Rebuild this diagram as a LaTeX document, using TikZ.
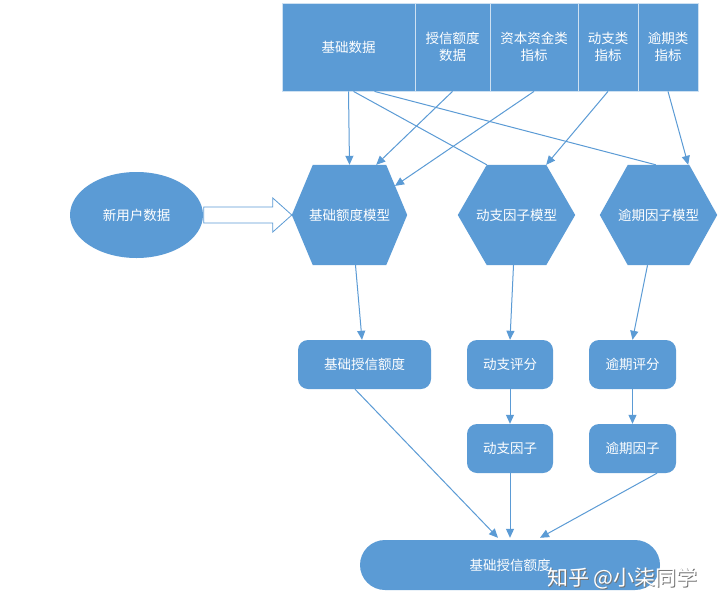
\documentclass[tikz,border=0pt]{standalone}
\usepackage{fontspec}
\setmainfont{Noto Sans CJK SC}
\usetikzlibrary{shapes.geometric,calc,arrows.meta}
\definecolor{ob}{HTML}{5B9BD5}
\definecolor{lnc}{HTML}{5B9BD5}
\pgfdeclarelayer{bg}
\pgfdeclarelayer{canvas}
\pgfsetlayers{canvas,bg,main}
\newcommand\myhex[7]{%
  \node[hexlabel, minimum width=#4pt, minimum height=#5pt] (#1) at (#2,#3) {#7};
  \begin{pgfonlayer}{bg}
  \fill[ob] (#1.west) -- ($(#1.north west)+(#6,0)$) coordinate (#1-tl)
     -- ($(#1.north east)+(-#6,0)$) coordinate (#1-tr) -- (#1.east)
     -- ($(#1.south east)+(-#6,0)$) -- ($(#1.south west)+(#6,0)$) -- cycle;
  \end{pgfonlayer}
}
\begin{document}
\begin{tikzpicture}[x=1pt,y=-1pt,
  txt/.style={font=\fontsize{13.5}{17}\selectfont, text=white},
  cell/.style={txt, draw=white!70!ob, line width=0.8pt, fill=ob, minimum height=88pt, inner sep=0pt, align=center},
  hexlabel/.style={txt, inner sep=0pt},
  rbox/.style={txt, fill=ob, rounded corners=10pt, minimum height=49pt, inner sep=0pt},
  arr/.style={draw=lnc, line width=1pt, -{Triangle[length=9pt,width=8pt]}},
  plain/.style={draw=lnc, line width=1pt}]
\begin{pgfonlayer}{canvas}
\fill[white] (0,0) rectangle (720,608);
\end{pgfonlayer}
\useasboundingbox (0,0) rectangle (720,608);

% top table
\node[cell, minimum width=133pt] (c1) at (348.5,47) {基础数据};
\node[cell, minimum width=75pt]  (c2) at (452.5,47) {授信额度\\数据};
\node[cell, minimum width=88pt]  (c3) at (534,47)   {资本资金类\\指标};
\node[cell, minimum width=60pt]  (c4) at (608,47)   {动支类\\指标};
\node[cell, minimum width=60pt]  (c5) at (668,47)   {逾期类\\指标};

% hexagons
\myhex{h1}{349.5}{215}{115}{100}{21}{基础额度模型}
\myhex{h2}{516.5}{215}{117}{100}{29}{动支因子模型}
\myhex{h3}{658.5}{215}{117}{100}{28}{逾期因子模型}

% ellipse
\node[txt, ellipse, fill=ob, minimum width=133pt, minimum height=86pt, inner sep=0pt] (e) at (136.5,215) {新用户数据};

% hollow arrow
\draw[draw=ob, fill=white, line width=0.8pt]
  ($(e.east)+(0.5,-8)$) -- ($(h1.west)+(-19,-8)$) -- ($(h1.west)+(-19,-17)$) -- (h1.west)
  -- ($(h1.west)+(-19,17)$) -- ($(h1.west)+(-19,8)$) -- ($(e.east)+(0.5,8)$) -- cycle;

% rounded boxes
\node[rbox, minimum width=133pt] (r1) at (364.5,364.5) {基础授信额度};
\node[rbox, minimum width=86pt]  (r2) at (510,364.5)   {动支评分};
\node[rbox, minimum width=87pt]  (r3) at (632.5,364.5) {逾期评分};
\node[rbox, minimum width=86pt]  (r4) at (510,448.5)   {动支因子};
\node[rbox, minimum width=87pt]  (r5) at (632.5,448.5) {逾期因子};
\node[rbox, minimum width=300pt, minimum height=50pt, rounded corners=25pt] (p) at (510,565) {基础授信额度};

% connectors from table
\draw[arr] (c1.south) -- (h1.north);
\draw[plain] ($(c1.south)+(5,0)$) -- (h2-tl);
\draw[plain] ($(c1.south)+(26,0)$) -- ($(h3-tl)+(28,0)$);
\draw[arr] (c2.south) -- ($(h1-tr)+(-10,0)$);
\draw[arr] (c3.south) -- ($(h1-tr)!0.42!(h1.east)$);
\draw[arr] (c4.south) -- (h2-tr);
\draw[arr] (c5.south) -- ($(h3-tr)+(-1,0)$);

% downward connectors
\draw[arr] ($(h1.south)+(6,0)$) -- ($(r1.north)+(-2.5,0)$);
\draw[arr] ($(h2.south)+(-3,0)$) -- (r2.north);
\draw[arr] ($(h3.south)+(-11,0)$) -- (r3.north);
\draw[arr] (r2) -- (r4);
\draw[arr] (r3) -- (r5);
\draw[arr] ($(r1.south)+(-9.5,0)$) -- ($(p.north)+(-12,-2)$);
\draw[arr] (r4.south) -- ($(p.north)+(0,-2)$);
\draw[arr] ($(r5.south)+(24.5,0)$) -- ($(p.north)+(30,-2)$);

% watermark
\node[anchor=west, font=\fontsize{21}{21}\selectfont, text=black!55, inner sep=0pt] (wms) at (548,579) {知乎 @小柒同学};
\node[anchor=west, font=\fontsize{21}{21}\selectfont, text=white, inner sep=0pt] (wm) at (547,578) {知乎 @小柒同学};
\end{tikzpicture}
\end{document}
